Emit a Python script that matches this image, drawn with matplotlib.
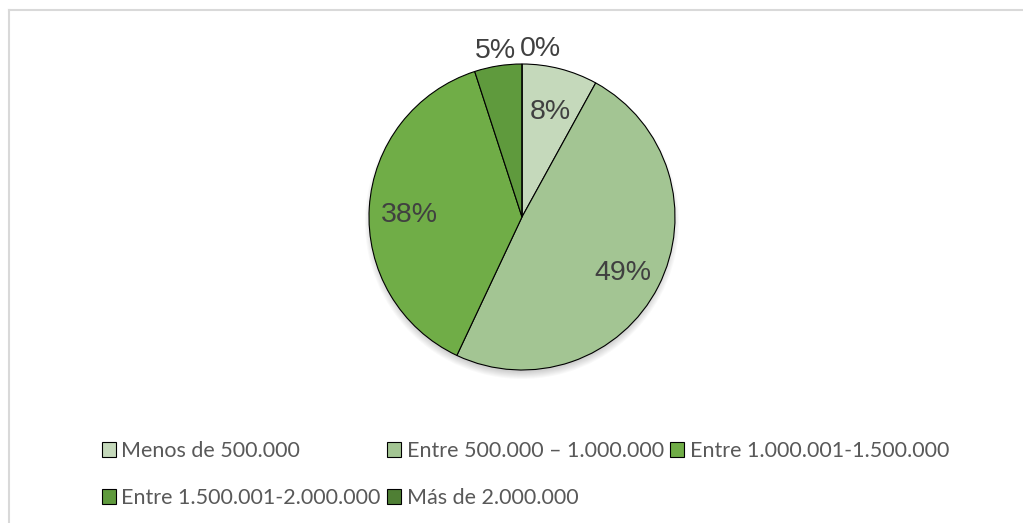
import numpy as np
import matplotlib.pyplot as plt
from matplotlib.patches import Circle
from matplotlib.lines import Line2D

# datos del grafico
categorias = ['Menos de 500.000', 'Entre 500.000 – 1.000.000', 'Entre 1.000.001-1.500.000',
              'Entre 1.500.001-2.000.000', 'Más de 2.000.000']
porcentajes = [8, 49, 38, 5, 0]
colores = ['#c5d9bb', '#a3c593', '#70ad47', '#5f9a3d', '#4f7f34']

W, H = 1023, 523
fig = plt.figure(figsize=(W / 100, H / 100), dpi=100)
ax = fig.add_axes([0, 0, 1, 1])

cx, cy, r = 522, H - 217, 153

# sombra del pastel
for k in range(8):
    ax.add_patch(Circle((cx, cy - 5), r + 4 - k, color='black', alpha=0.025, lw=0, zorder=0))

wedges, _ = ax.pie(porcentajes, colors=colores, startangle=90, counterclock=False,
                   center=(cx, cy), radius=r, normalize=True,
                   wedgeprops=dict(edgecolor='black', linewidth=0.8))
for w in wedges:
    w.set_zorder(2)

# etiquetas de porcentaje
acum = 0
for i, p in enumerate(porcentajes):
    mid = np.deg2rad(90 - (acum + p / 2) * 3.6)
    acum += p
    if p >= 6:
        d = 0.74 * r
        dx = 0
    else:
        d = 1.13 * r
        dx = 18 if p == 0 else 0
    ax.text(cx + d * np.cos(mid) + dx, cy + d * np.sin(mid) - 5, '%d%%' % p,
            ha='center', va='center', fontsize=20.5, color='#404040',
            family='Liberation Sans', zorder=3)

ax.set_xlim(0, W)
ax.set_ylim(0, H)
ax.set_aspect('auto')
ax.axis('off')

# leyenda: orden para que quede en filas de 3
orden = [0, 3, 1, 4, 2]
leg = ax.legend([wedges[i] for i in orden], [categorias[i] for i in orden],
                ncol=3, loc='upper left', bbox_to_anchor=(102 / W, 1 - 441 / H),
                bbox_transform=fig.transFigure, frameon=False,
                prop={'family': 'Lato', 'size': 15.5}, labelcolor='#595959',
                handlelength=0.65, handleheight=0.65, handletextpad=0.25,
                columnspacing=0.3, labelspacing=1.25, borderpad=0, borderaxespad=0)

# marco gris
fig.add_artist(Line2D([9 / W, 9 / W], [0, 1 - 10 / H], color='#d9d9d9', lw=1.5))
fig.add_artist(Line2D([9 / W, 1], [1 - 10 / H, 1 - 10 / H], color='#d9d9d9', lw=1.5))

fig.savefig('out.png', dpi=100, facecolor='white')
